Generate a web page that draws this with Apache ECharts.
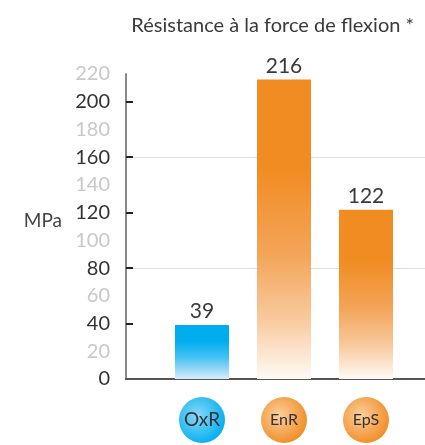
<!DOCTYPE html>
<html>
<head>
<meta charset="utf-8">
<script src="https://cdn.jsdelivr.net/npm/echarts@6/dist/echarts.min.js"></script>
<style>
  html, body { margin: 0; padding: 0; background: #fff; }
  #chart { width: 425px; height: 445px; }
</style>
</head>
<body>
<div id="chart"></div>
<script>
const categories = ['OxR', 'EnR', 'EpS'];
const values = [39, 216, 122];
const tickMarks = [40, 80, 120, 160, 200];
const barColors = ['#00aeef', '#f18c22', '#f18c22'];
const barMid = ['#3fc0f2', '#f3a458', '#f3a458'];
const barLight = ['#8fd4f6', '#f8c99d', '#f8c99d'];
const barFade = ['#d6eefb', '#fffaf5', '#fffaf5'];
const badgeLight = ['#8ad8f8', '#fbcf9f', '#fbcf9f'];

const font = 'Lato, "Open Sans", sans-serif';
const chart = echarts.init(document.getElementById('chart'));

function fade(i) {
  return new echarts.graphic.LinearGradient(0, 0, 0, 1, [
    { offset: 0, color: barColors[i] },
    { offset: 0.3, color: barColors[i] },
    { offset: 0.58, color: barMid[i] },
    { offset: 0.8, color: barLight[i] },
    { offset: 1, color: barFade[i] }
  ]);
}
function badge(i) {
  return {
    width: 46, height: 46, lineHeight: 46, borderRadius: 23, align: 'center',
    fontSize: i === 0 ? 19 : 16, color: '#333', fontFamily: font,
    backgroundColor: new echarts.graphic.RadialGradient(0.4, 0.4, 0.65, [
      { offset: 0, color: badgeLight[i] },
      { offset: 1, color: barColors[i] }
    ])
  };
}

const rich = {};
categories.forEach((c, i) => { rich['b' + i] = badge(i); });

chart.setOption({
  animation: false,
  title: {
    text: 'Résistance à la force de flexion *',
    right: 6, top: 11,
    textStyle: { fontFamily: font, fontSize: 20, fontWeight: 'normal', color: '#3a3a3a' }
  },
  grid: [
    { left: 126, right: 0, top: 74, bottom: 66 },
    { left: 161, right: 18, top: 74, bottom: 66 }
  ],
  xAxis: [
    {
      gridIndex: 0, type: 'value', min: 0, max: 1,
      axisLine: { show: true, lineStyle: { color: '#555', width: 2 } },
      axisTick: { show: false }, axisLabel: { show: false }, splitLine: { show: false }
    },
    {
      gridIndex: 1, type: 'category', data: categories,
      axisLine: { show: false }, axisTick: { show: false },
      axisLabel: {
        margin: 18,
        formatter: (v, i) => '{b' + i + '|' + v + '}',
        rich: rich
      }
    }
  ],
  yAxis: [
    {
      gridIndex: 0, type: 'value', min: 0, max: 220, interval: 20,
      name: 'MPa', nameLocation: 'middle', nameRotate: 0, nameGap: 64,
      nameTextStyle: { fontFamily: font, fontSize: 19, color: '#444',
        verticalAlign: 'bottom', lineHeight: 12 },
      axisLine: { show: true, lineStyle: { color: '#888', width: 2 } },
      axisTick: { show: true, inside: true, length: 7, customValues: tickMarks,
        lineStyle: { color: '#222', width: 2 } },
      axisLabel: {
        margin: 16,
        formatter: v => (v % 40 === 0 ? '{d|' + v + '}' : '{l|' + v + '}'),
        rich: {
          d: { fontFamily: font, fontSize: 20, color: '#333' },
          l: { fontFamily: font, fontSize: 20, color: '#c8c8c8' }
        }
      },
      splitLine: { show: true, lineStyle: { color: ['transparent', '#dddddd'], width: 1 } }
    },
    {
      gridIndex: 1, type: 'value', min: 0, max: 220,
      axisLine: { show: false }, axisTick: { show: false },
      axisLabel: { show: false }, splitLine: { show: false }
    }
  ],
  series: [{
    type: 'bar',
    xAxisIndex: 1, yAxisIndex: 1,
    barWidth: 54,
    data: values.map((v, i) => ({ value: v, itemStyle: { color: fade(i) } })),
    label: {
      show: true, position: 'top', distance: 3,
      fontFamily: font, fontSize: 21, color: '#3a3a3a'
    }
  }]
});
</script>
</body>
</html>
